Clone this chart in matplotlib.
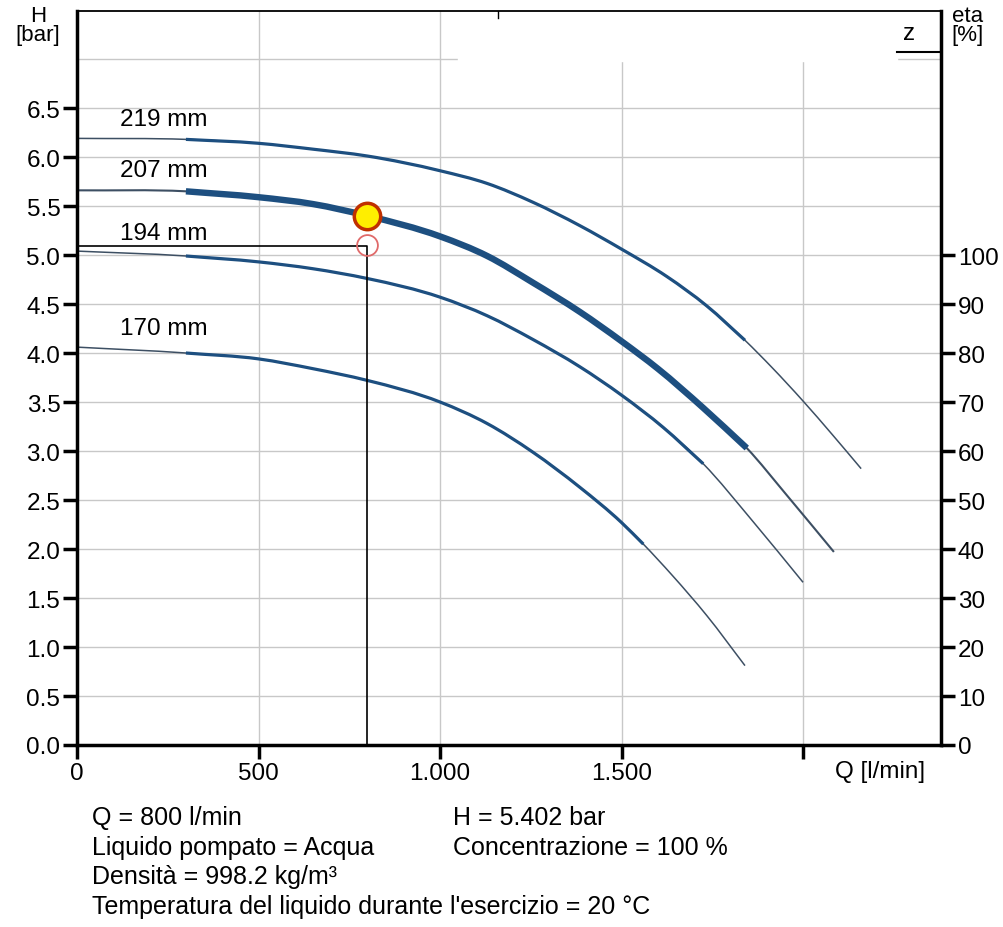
import numpy as np
import matplotlib
matplotlib.use("Agg")
import matplotlib.pyplot as plt
from matplotlib.path import Path
from matplotlib.patches import PathPatch

plt.rcParams['font.family'] = ['Liberation Sans', 'DejaVu Sans']

# Kennlinien (Q in l/min, H in bar)
q_219 = [0, 300, 500, 650, 800, 1000, 1130, 1255, 1385, 1500, 1625, 1735, 1840, 1915, 2000, 2080, 2160]
h_219 = [6.19, 6.18, 6.14, 6.08, 6.01, 5.86, 5.73, 5.54, 5.30, 5.06, 4.78, 4.48, 4.13, 3.85, 3.51, 3.17, 2.82]

q_207 = [0, 300, 500, 650, 800, 1000, 1130, 1255, 1385, 1500, 1600, 1725, 1845, 1955, 2085]
h_207 = [5.66, 5.65, 5.59, 5.52, 5.40, 5.19, 4.99, 4.72, 4.42, 4.12, 3.84, 3.44, 3.03, 2.55, 1.97]

q_194 = [0, 300, 500, 650, 800, 1000, 1130, 1255, 1385, 1500, 1615, 1725, 1860, 2000]
h_194 = [5.04, 4.99, 4.93, 4.86, 4.76, 4.57, 4.38, 4.14, 3.86, 3.57, 3.24, 2.87, 2.29, 1.66]

q_170 = [0, 300, 500, 650, 800, 1000, 1130, 1255, 1385, 1500, 1560, 1640, 1735, 1840]
h_170 = [4.06, 4.00, 3.94, 3.84, 3.72, 3.50, 3.28, 2.99, 2.63, 2.27, 2.05, 1.73, 1.32, 0.81]

curve_labels = ['219 mm', '207 mm', '194 mm', '170 mm']
label_h = [6.39, 5.87, 5.22, 4.26]
thick_end = [1840, 1845, 1725, 1560]

q_op, h_op = 800, 5.402
h_req = 5.10

x_ticks = [0, 500, 1000, 1500]
x_ticklabels = ['0', '500', '1.000', '1.500']
eta_ticks = list(range(0, 101, 10))

info_left = ['Q = 800 l/min', 'Liquido pompato = Acqua', 'Densità = 998.2 kg/m³',
             "Temperatura del liquido durante l'esercizio = 20 °C"]
info_right = ['H = 5.402 bar', 'Concentrazione = 100 %']

fs = 17.5


def smooth_path(x, y):
    # kubische Hermite-Kurve durch die Stützpunkte (Bezier-Pfad)
    x = np.asarray(x, float)
    y = np.asarray(y, float)
    n = len(x)
    d = np.diff(y) / np.diff(x)
    dx = np.diff(x)
    m = np.empty(n)
    m[0], m[-1] = d[0], d[-1]
    for k in range(1, n - 1):
        m[k] = (d[k - 1] * dx[k] + d[k] * dx[k - 1]) / (dx[k - 1] + dx[k])
    verts = [(x[0], y[0])]
    codes = [Path.MOVETO]
    for k in range(n - 1):
        h3 = dx[k] / 3
        verts += [(x[k] + h3, y[k] + m[k] * h3),
                  (x[k + 1] - h3, y[k + 1] - m[k + 1] * h3),
                  (x[k + 1], y[k + 1])]
        codes += [Path.CURVE4] * 3
    return Path(verts, codes)


fig = plt.figure(figsize=(10.04, 9.28), dpi=100)
ax = fig.add_axes([77 / 1004, 1 - 746 / 928, 864 / 1004, 734 / 928])
ax.set_xlim(0, 2380)
ax.set_ylim(0, 7.49)

# Gitter
for q in [500, 1000, 1500, 2000]:
    ax.axvline(q, color='#c8c8c8', lw=1, zorder=0)
for h in np.arange(0.5, 7.01, 0.5):
    ax.axhline(h, color='#c8c8c8', lw=1, zorder=0)

blue = '#1d4f80'
thin = '#3d4f63'
curves = [(q_219, h_219), (q_207, h_207), (q_194, h_194), (q_170, h_170)]
for i, (q, h) in enumerate(curves):
    q = np.array(q)
    h = np.array(h)
    ax.add_patch(PathPatch(smooth_path(q, h), fill=False, edgecolor=thin,
                           lw=1.5 if i == 1 else 1.1, zorder=2))
    m = (q >= 300) & (q <= thick_end[i])
    ax.add_patch(PathPatch(smooth_path(q[m], h[m]), fill=False, edgecolor=blue,
                           lw=4.6 if i == 1 else 2.3, capstyle='butt', zorder=3))
    ax.text(118, label_h[i], curve_labels[i], fontsize=fs, va='center', ha='left')

# Betriebspunkt
ax.plot([0, q_op, q_op], [5.095, 5.095, 0], color='black', lw=1.2, zorder=4)
ax.plot(q_op, h_req, 'o', ms=15, mfc='none', mec='#e06a6a', mew=1.3, zorder=5)
ax.plot(q_op, h_op, 'o', ms=19, mfc='#ffee00', mec='#c03000', mew=2.5, zorder=6)

# Abdeckung oben rechts
ax.fill_between([1049, 2258], 6.98, 7.49, color='white', zorder=1)
ax.plot([2258, 2380], [7.07, 7.07], color='black', lw=1.5, zorder=4)
ax.text(2275, 7.27, 'z', fontsize=fs, va='center', ha='left')
ax.plot([1160, 1160], [7.42, 7.49], color='black', lw=1)

for s in ['left', 'bottom', 'right']:
    ax.spines[s].set_linewidth(2.5)
ax.spines['top'].set_linewidth(1.3)

ax.set_xticks(x_ticks + [2000])
ax.set_xticklabels(x_ticklabels + [''], fontsize=fs)
ax.set_yticks(np.arange(0, 6.51, 0.5))
ax.set_yticklabels([f'{v:.1f}' for v in np.arange(0, 6.51, 0.5)], fontsize=fs)
ax.tick_params(axis='both', length=10, width=2.5, pad=2)

ax2 = ax.twinx()
ax2.set_ylim(0, 7.49 * 20)
ax2.set_yticks(eta_ticks)
ax2.set_yticklabels([str(v) for v in eta_ticks], fontsize=fs)
ax2.tick_params(axis='y', length=10, width=2.5, pad=2)
for s in ax2.spines.values():
    s.set_visible(False)

fig.text(38 / 1004, 1 - 6 / 928, 'H\n[bar]', fontsize=16, ha='center', va='top', linespacing=0.9)
fig.text(968 / 1004, 1 - 6 / 928, 'eta\n[%]', fontsize=16, ha='center', va='top', linespacing=0.9)
fig.text(880 / 1004, 1 - 772 / 928, 'Q [l/min]', fontsize=fs, ha='center', va='center')

for k, t in enumerate(info_left):
    fig.text(92 / 1004, 1 - (818 + 29.7 * k) / 928, t, fontsize=18, va='center')
for k, t in enumerate(info_right):
    fig.text(453 / 1004, 1 - (818 + 29.7 * k) / 928, t, fontsize=18, va='center')

fig.savefig('out.png', dpi=100)
